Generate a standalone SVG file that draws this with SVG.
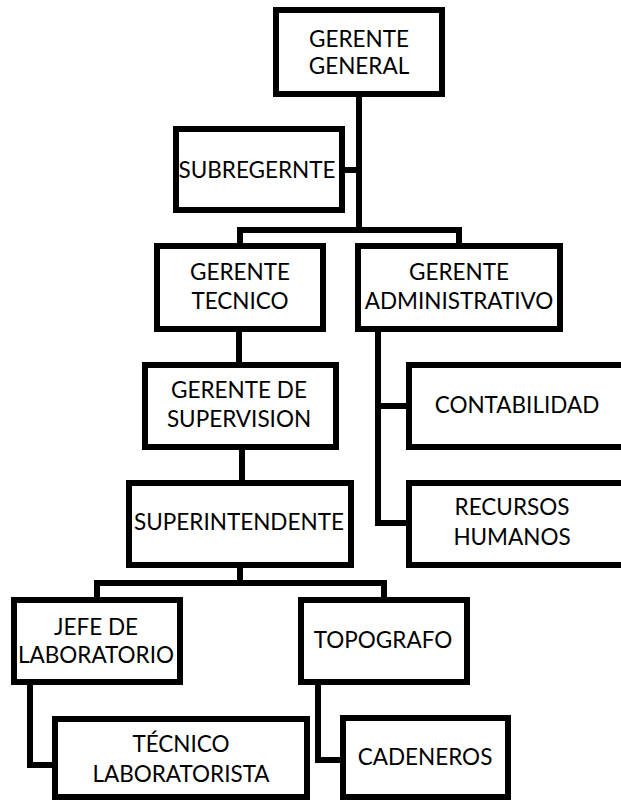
<svg xmlns="http://www.w3.org/2000/svg" width="621" height="800" viewBox="0 0 621 800">
<style>
.box{fill:#fff;stroke:#000;stroke-width:6}
.ln{fill:none;stroke:#000;stroke-width:6;stroke-linejoin:miter;stroke-linecap:butt}
text{font-family:Lato,"Open Sans","Liberation Sans",sans-serif;font-size:22.5px;fill:#000;text-anchor:middle}
</style>
<rect width="621" height="800" fill="#fff"/>
<g id="connectors">
<path class="ln" d="M359 97V230M345 170H359M240 246V230H459V246"/>
<path class="ln" d="M239 332V362M242 450V480"/>
<path class="ln" d="M240 568V583M97 597V583H384V597"/>
<path class="ln" d="M30 685V765H52M318 685V760H340"/>
<path class="ln" d="M378 332V523H406M378 406H406"/>
</g>
<g id="gerente-general"><rect class="box" x="276" y="10" width="166" height="84"/><text x="359" y="47">GERENTE</text><text x="359" y="74">GENERAL</text></g>
<g id="subregernte"><rect class="box" x="176" y="129" width="166" height="81"/><text x="257" y="178">SUBREGERNTE</text></g>
<g id="gerente-tecnico"><rect class="box" x="157" y="246" width="166" height="83"/><text x="240" y="280">GERENTE</text><text x="240" y="309">TECNICO</text></g>
<g id="gerente-administrativo"><rect class="box" x="358" y="246" width="202" height="83"/><text x="459" y="280">GERENTE</text><text x="459" y="309">ADMINISTRATIVO</text></g>
<g id="gerente-supervision"><rect class="box" x="145" y="365" width="191" height="82"/><text x="239" y="398">GERENTE DE</text><text x="239" y="427">SUPERVISION</text></g>
<g id="contabilidad"><rect class="box" x="409" y="365" width="220" height="82"/><text x="517" y="413">CONTABILIDAD</text></g>
<g id="superintendente"><rect class="box" x="129" y="483" width="222" height="82"/><text x="239" y="530">SUPERINTENDENTE</text></g>
<g id="recursos-humanos"><rect class="box" x="409" y="483" width="220" height="82"/><text x="512" y="515">RECURSOS</text><text x="512" y="545">HUMANOS</text></g>
<g id="jefe-laboratorio"><rect class="box" x="14" y="600" width="166" height="82"/><text x="96" y="635">JEFE DE</text><text x="96" y="663">LABORATORIO</text></g>
<g id="topografo"><rect class="box" x="301" y="600" width="166" height="82"/><text x="383" y="648">TOPOGRAFO</text></g>
<g id="tecnico-laboratorista"><rect class="box" x="55" y="719" width="252" height="78"/><text x="181" y="752">TÉCNICO</text><text x="181" y="782">LABORATORISTA</text></g>
<g id="cadeneros"><rect class="box" x="343" y="718" width="165" height="79"/><text x="425" y="765">CADENEROS</text></g>
</svg>
